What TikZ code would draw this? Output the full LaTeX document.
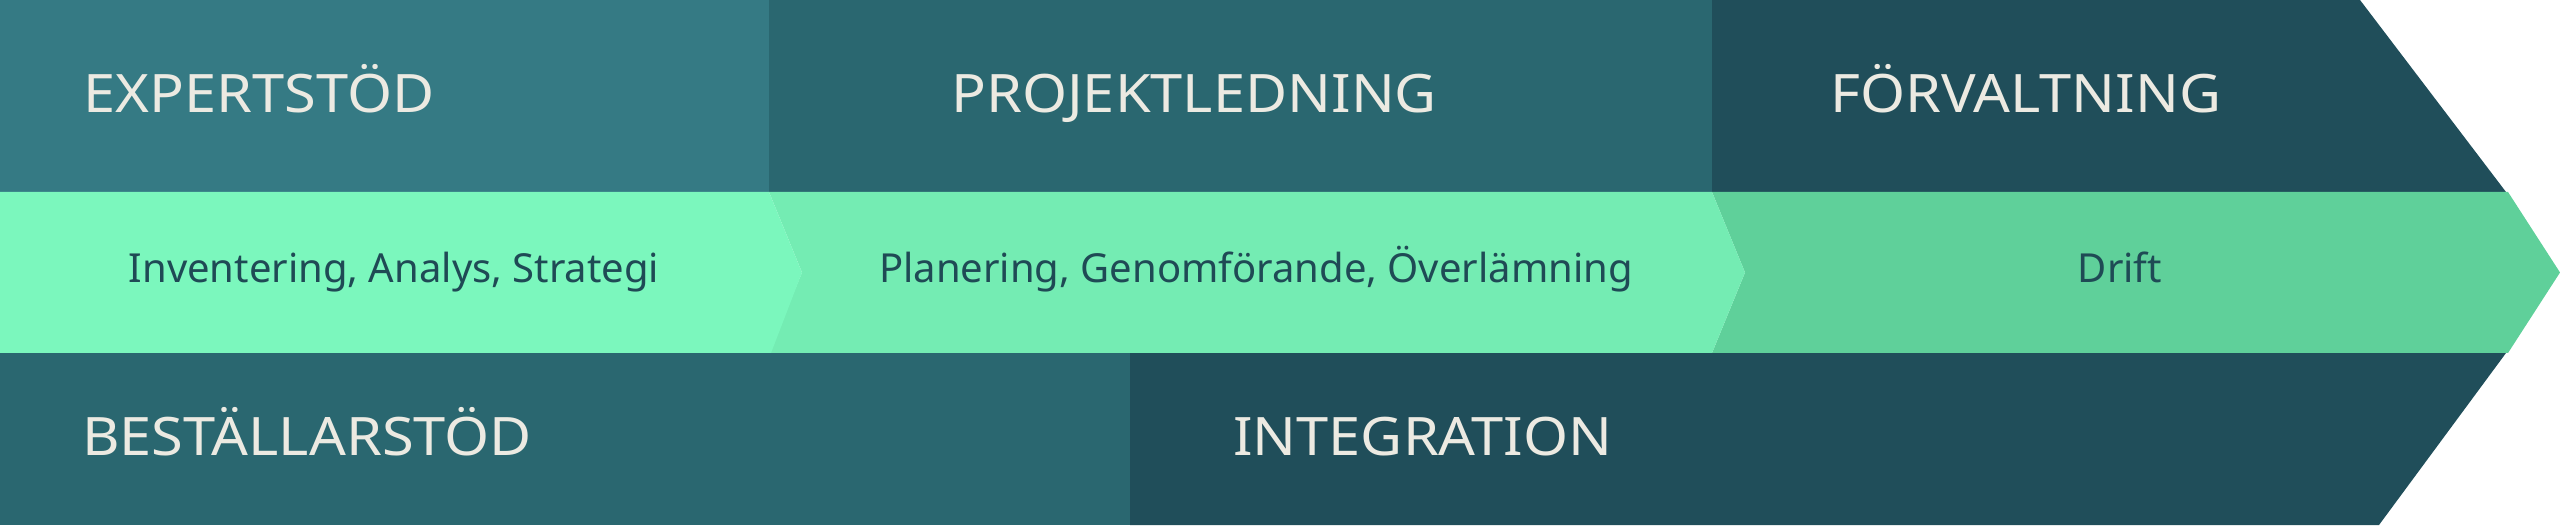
\documentclass[tikz,border=0pt]{standalone}
\usepackage{fontspec}
\setmainfont{Noto Sans}
\newfontfamily\wideface[FakeStretch=1.09]{Noto Sans}
\definecolor{bgA}{HTML}{357A84}
\definecolor{bgB}{HTML}{2A6770}
\definecolor{bgC}{HTML}{204E5A}
\definecolor{grA}{HTML}{7BF7BD}
\definecolor{grB}{HTML}{74ECB3}
\definecolor{grC}{HTML}{5FD09A}
\definecolor{txtL}{HTML}{ECEAE2}
\definecolor{txtD}{HTML}{1F4A55}
\tikzset{
  bigtxt/.style={anchor=base west, inner sep=0pt, text=txtL, font=\wideface\fontsize{53}{60}\selectfont},
  smalltxt/.style={anchor=base, inner sep=0pt, text=txtD, font=\fontsize{40}{46}\selectfont},
}
\begin{document}
\begin{tikzpicture}[x=1pt,y=1pt]
\useasboundingbox (0,0) rectangle (2560,525);
% top band
\fill[bgA] (0,525) rectangle (769,333);
\fill[bgB] (769,525) rectangle (1712,333);
\fill[bgC] (1712,525) -- (2360,525) -- (2506,333) -- (1712,333) -- cycle;
% bottom band
\fill[bgB] (0,172) rectangle (1130,0);
\fill[bgC] (1130,172) -- (2506,172) -- (2379,0) -- (1130,0) -- cycle;
% middle chevrons
\fill[grC] (1712,333) -- (2508,333) -- (2560,252.5) -- (2508,172) -- (1712,172) -- (1745,252.5) -- cycle;
\fill[grB] (769,333) -- (1712,333) -- (1745,252.5) -- (1712,172) -- (769,172) -- (802,252.5) -- cycle;
\fill[grA] (0,333) -- (769,333) -- (802,252.5) -- (771,172) -- (0,172) -- cycle;
% labels
\node[bigtxt] (expert) at (83,412) {EXPERTSTÖD};
\node[bigtxt] (projekt) at (951,412) {PROJEKTLEDNING};
\node[bigtxt] (forv) at (1830,412) {FÖRVALTNING};
\node[bigtxt] (best) at (82,70) {BESTÄLLARSTÖD};
\node[bigtxt] (integ) at (1233,70) {INTEGRATION};
\node[smalltxt] (inv) at (394,242) {Inventering, Analys, Strategi};
\node[smalltxt] (plan) at (1256,242) {Planering, Genomförande, Överlämning};
\node[smalltxt] (drift) at (2120,242) {Drift};
\end{tikzpicture}
\end{document}
